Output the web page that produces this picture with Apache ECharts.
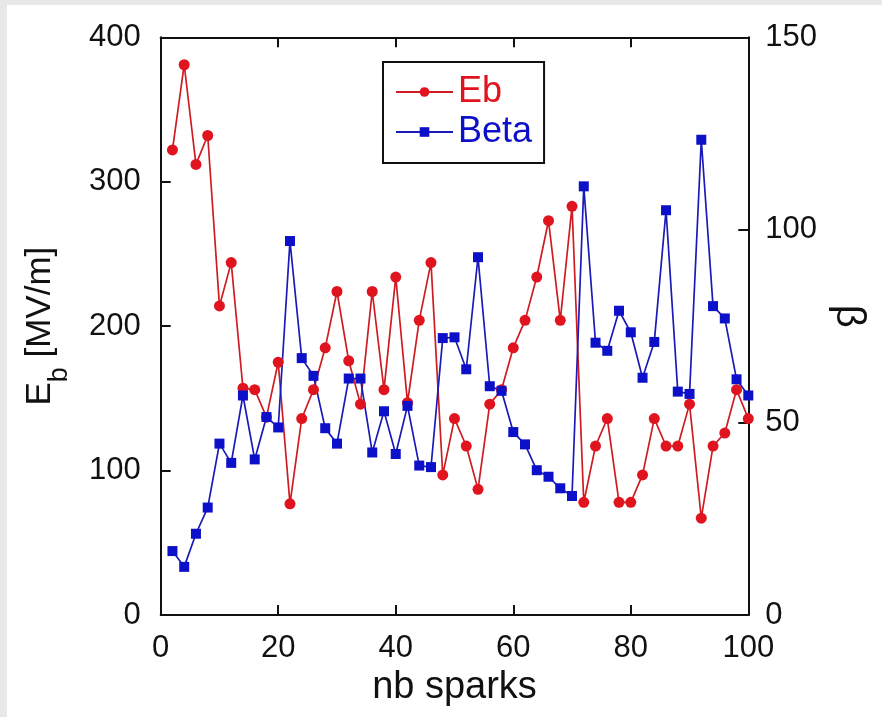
<!DOCTYPE html>
<html><head><meta charset="utf-8">
<script src="https://cdn.jsdelivr.net/npm/echarts@6/dist/echarts.min.js"></script>
<style>html,body{margin:0;padding:0;background:#e8e8e8;width:882px;height:717px;overflow:hidden}
#c{position:absolute;left:7px;top:5px;width:875px;height:712px;background:#fff}</style>
</head><body><div id="c"></div>
<script>
const sparks = [2,4,6,8,10,12,14,16,18,20,22,24,26,28,30,32,34,36,38,40,42,44,46,48,50,52,54,56,58,60,62,64,66,68,70,72,74,76,78,80,82,84,86,88,90,92,94,96,98,100];
const eb = [322,381,312,332,214,244,157,156,137,175,77,136,156,185,224,176,146,224,156,234,147,204,244,97,136,117,87,146,156,185,204,234,273,204,283,78,117,136,78,78,97,136,117,117,146,67,117,126,156,136];
const beta = [16.6,12.5,21.1,27.9,44.5,39.5,57,40.4,51.4,48.7,97.1,66.7,62.1,48.5,44.5,61.4,61.4,42.2,52.9,41.8,54.3,38.8,38.4,71.9,72.1,63.8,92.9,59.4,58.2,47.5,44.3,37.6,35.9,32.9,30.9,111.3,70.7,68.6,79,73.4,61.6,70.9,105.1,58,57.4,123.4,80.2,77,61.2,57];
const seriesNames = ['Eb', 'Beta'];
const xTitle = 'nb sparks';
const rightTitle = 'β';

const FONT = "'Liberation Sans', Arial, sans-serif";
const RED = '#e0141e', RED_LINE = '#cf1c22';
const BLUE = '#0c10c8', BLUE_LINE = '#1a1ab8';
const INK = '#111111';

const chart = echarts.init(document.getElementById('c'), null, {renderer: 'canvas'});
const mkLine = () => ({show: true, onZero: false, lineStyle: {color: INK, width: 2}});
const mkTick = () => ({show: true, inside: true, length: 10, lineStyle: {color: INK, width: 2}});
chart.setOption({
  animation: false,
  backgroundColor: '#ffffff',
  grid: {left: 153.7, top: 32.3, right: 133.7, bottom: 102, containLabel: false},
  legend: {
    orient: 'vertical', left: 376, top: 57,
    padding: [12, 12, 13, 12], itemGap: 4, itemWidth: 57, itemHeight: 12,
    borderColor: INK, borderWidth: 2, borderRadius: 0, backgroundColor: '#fff',
    textStyle: {fontSize: 36, fontFamily: FONT},
    data: [{name: seriesNames[0], textStyle: {color: RED}}, {name: seriesNames[1], textStyle: {color: BLUE}}]
  },
  xAxis: [{
    type: 'value', min: 0, max: 100, interval: 20, position: 'bottom',
    axisLine: mkLine(), axisTick: mkTick(), splitLine: {show: false},
    axisLabel: {fontSize: 31, color: INK, margin: 18, fontFamily: FONT},
    name: xTitle, nameLocation: 'middle', nameGap: 54,
    nameTextStyle: {fontSize: 38, color: INK, fontFamily: FONT}
  }, {
    type: 'value', min: 0, max: 100, interval: 20, position: 'top',
    axisLine: mkLine(), axisTick: mkTick(), splitLine: {show: false}, axisLabel: {show: false}
  }],
  yAxis: [{
    type: 'value', min: 0, max: 400, interval: 100, position: 'left',
    axisLine: mkLine(), axisTick: mkTick(), splitLine: {show: false},
    axisLabel: {fontSize: 31, color: INK, margin: 20, fontFamily: FONT},
    name: '{e|E}{s|b}{e| [MV/m]}', nameLocation: 'middle', nameGap: 88, nameRotate: 90,
    nameTextStyle: {color: INK, fontFamily: FONT, fontSize: 35,
      rich: {e: {fontSize: 35, color: INK, fontFamily: FONT, verticalAlign: 'top'},
             s: {fontSize: 27, color: INK, fontFamily: FONT, verticalAlign: 'top', padding: [23, 0, 0, 0]}}}
  }, {
    type: 'value', min: 0, max: 150, interval: 50, position: 'right',
    axisLine: mkLine(), axisTick: mkTick(), splitLine: {show: false},
    axisLabel: {fontSize: 31, color: INK, margin: 17, fontFamily: FONT},
    name: rightTitle, nameLocation: 'middle', nameGap: 80, nameRotate: -90,
    nameTextStyle: {fontSize: 40, color: INK, fontFamily: FONT, padding: [0, 20, 0, 0]}
  }],
  series: [{
    name: seriesNames[0], type: 'line', xAxisIndex: 0, yAxisIndex: 0,
    data: sparks.map((x, i) => [x, eb[i]]),
    symbol: 'circle', symbolSize: 11,
    itemStyle: {color: RED}, lineStyle: {color: RED_LINE, width: 1.7}
  }, {
    name: seriesNames[1], type: 'line', xAxisIndex: 0, yAxisIndex: 1,
    data: sparks.map((x, i) => [x, beta[i]]),
    symbol: 'rect', symbolSize: 10,
    itemStyle: {color: BLUE}, lineStyle: {color: BLUE_LINE, width: 1.7}
  }]
});
</script></body></html>
